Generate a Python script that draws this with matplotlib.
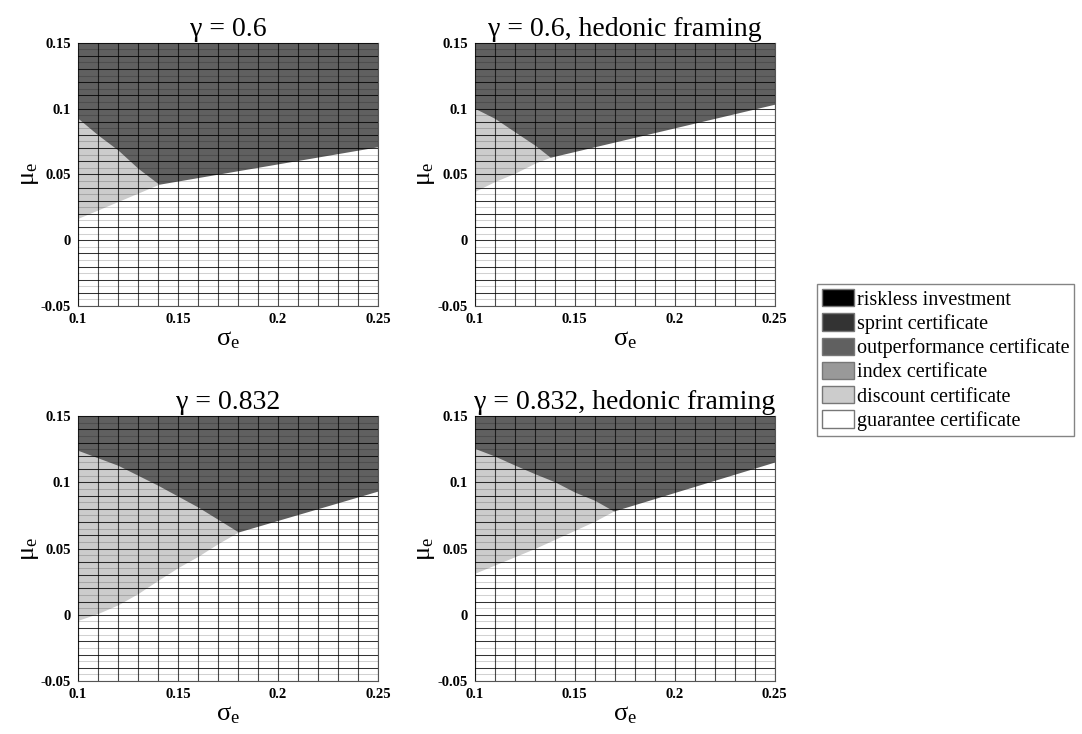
import numpy as np
import matplotlib
matplotlib.use('Agg')
import matplotlib.pyplot as plt
from matplotlib.patches import Patch

plt.rcParams['font.family'] = ['Liberation Serif', 'DejaVu Serif']
plt.rcParams['mathtext.fontset'] = 'custom'
plt.rcParams['mathtext.rm'] = 'Liberation Serif'
plt.rcParams['mathtext.it'] = 'Liberation Serif:italic'

## Region boundaries (sigma_e -> mu_e)
titles = ['γ = 0.6', 'γ = 0.6, hedonic framing',
          'γ = 0.832', 'γ = 0.832, hedonic framing']

# lower edge of the outperformance region
outperf_sigma_1 = [0.10, 0.11, 0.12, 0.13, 0.1405, 0.25]
outperf_mu_1 = [0.0926, 0.0799, 0.0685, 0.0546, 0.0425, 0.0710]
outperf_sigma_2 = [0.10, 0.11, 0.12, 0.13, 0.1378, 0.25]
outperf_mu_2 = [0.1002, 0.0926, 0.0824, 0.0723, 0.0630, 0.1033]
outperf_sigma_3 = [0.10, 0.12, 0.14, 0.16, 0.1802, 0.25]
outperf_mu_3 = [0.1241, 0.1128, 0.0977, 0.0813, 0.0625, 0.0934]
outperf_sigma_4 = [0.10, 0.11, 0.12, 0.13, 0.14, 0.15, 0.16, 0.1695, 0.25]
outperf_mu_4 = [0.1256, 0.1198, 0.1130, 0.1065, 0.1004, 0.0926, 0.0864, 0.0783, 0.1153]

# lower edge of the discount region
discount_sigma_1 = [0.10, 0.1405]
discount_mu_1 = [0.0166, 0.0425]
discount_sigma_2 = [0.10, 0.11, 0.12, 0.13, 0.1378]
discount_mu_2 = [0.0370, 0.0445, 0.0508, 0.0584, 0.0630]
discount_sigma_3 = [0.10, 0.11, 0.12, 0.13, 0.14, 0.15, 0.16, 0.17, 0.1802]
discount_mu_3 = [-0.0042, 0.0010, 0.0075, 0.0160, 0.0260, 0.0356, 0.0441, 0.0537, 0.0625]
discount_sigma_4 = [0.10, 0.13, 0.16, 0.1695]
discount_mu_4 = [0.0313, 0.0500, 0.0706, 0.0783]

categories = ['riskless investment', 'sprint certificate', 'outperformance certificate',
              'index certificate', 'discount certificate', 'guarantee certificate']
cat_colors = ['#000000', '#333333', '#606060', '#999999', '#cccccc', '#ffffff']

x_ticks = [0.1, 0.15, 0.2, 0.25]
x_ticklabels = ['0.1', '0.15', '0.2', '0.25']
y_ticks = [-0.05, 0, 0.05, 0.1, 0.15]
y_ticklabels = ['-0.05', '0', '0.05', '0.1', '0.15']

panels = [
    (outperf_sigma_1, outperf_mu_1, discount_sigma_1, discount_mu_1),
    (outperf_sigma_2, outperf_mu_2, discount_sigma_2, discount_mu_2),
    (outperf_sigma_3, outperf_mu_3, discount_sigma_3, discount_mu_3),
    (outperf_sigma_4, outperf_mu_4, discount_sigma_4, discount_mu_4),
]

fig = plt.figure(figsize=(10.82, 7.34), dpi=100)
axes_pos = [
    [0.0721, 0.5831, 0.2773, 0.3587],
    [0.4387, 0.5831, 0.2773, 0.3587],
    [0.0721, 0.0722, 0.2773, 0.3610],
    [0.4387, 0.0722, 0.2773, 0.3610],
]

for pos, title, (os_, om, ds, dm) in zip(axes_pos, titles, panels):
    ax = fig.add_axes(pos)
    ax.set_xlim(0.1, 0.25)
    ax.set_ylim(-0.05, 0.15)
    ax.set_facecolor(cat_colors[5])
    ax.fill_between(ds, dm, 0.15, color=cat_colors[4], lw=0, zorder=1)
    ax.fill_between(os_, om, 0.15, color=cat_colors[2], lw=0, zorder=2)

    # mesh lines
    for s in np.arange(0.10, 0.2501, 0.01):
        ax.axvline(s, color='black', lw=0.8, alpha=0.7, zorder=3)
    for i, m in enumerate(np.arange(-0.05, 0.1501, 0.005)):
        a = 0.8 if i % 2 == 0 else 0.18
        ax.axhline(m, color='black', lw=0.75, alpha=a, zorder=3)

    ax.set_xticks(x_ticks)
    ax.set_xticklabels(x_ticklabels)
    ax.set_yticks(y_ticks)
    ax.set_yticklabels(y_ticklabels)
    ax.tick_params(length=0, labelsize=10.5, pad=5)
    for lab in ax.get_xticklabels() + ax.get_yticklabels():
        lab.set_fontweight('bold')
    for sp in ax.spines.values():
        sp.set_color('#555555')
        sp.set_linewidth(0.8)
    ax.set_title(title, fontsize=20, pad=5)
    ax.set_xlabel('σ$_\\mathrm{e}$', fontsize=19, labelpad=2)
    ax.set_ylabel('μ$_\\mathrm{e}$', fontsize=19, labelpad=0)

handles = [Patch(facecolor=c, edgecolor='#777777', lw=1) for c in cat_colors]
fig.legend(handles, categories, loc='upper left', bbox_to_anchor=(0.755, 0.613),
           fontsize=14.5, frameon=True, fancybox=False, edgecolor='#666666',
           handlelength=1.6, handleheight=0.95, handletextpad=0.12,
           labelspacing=0.18, borderpad=0.25, borderaxespad=0)

plt.savefig('out.png', dpi=100)
